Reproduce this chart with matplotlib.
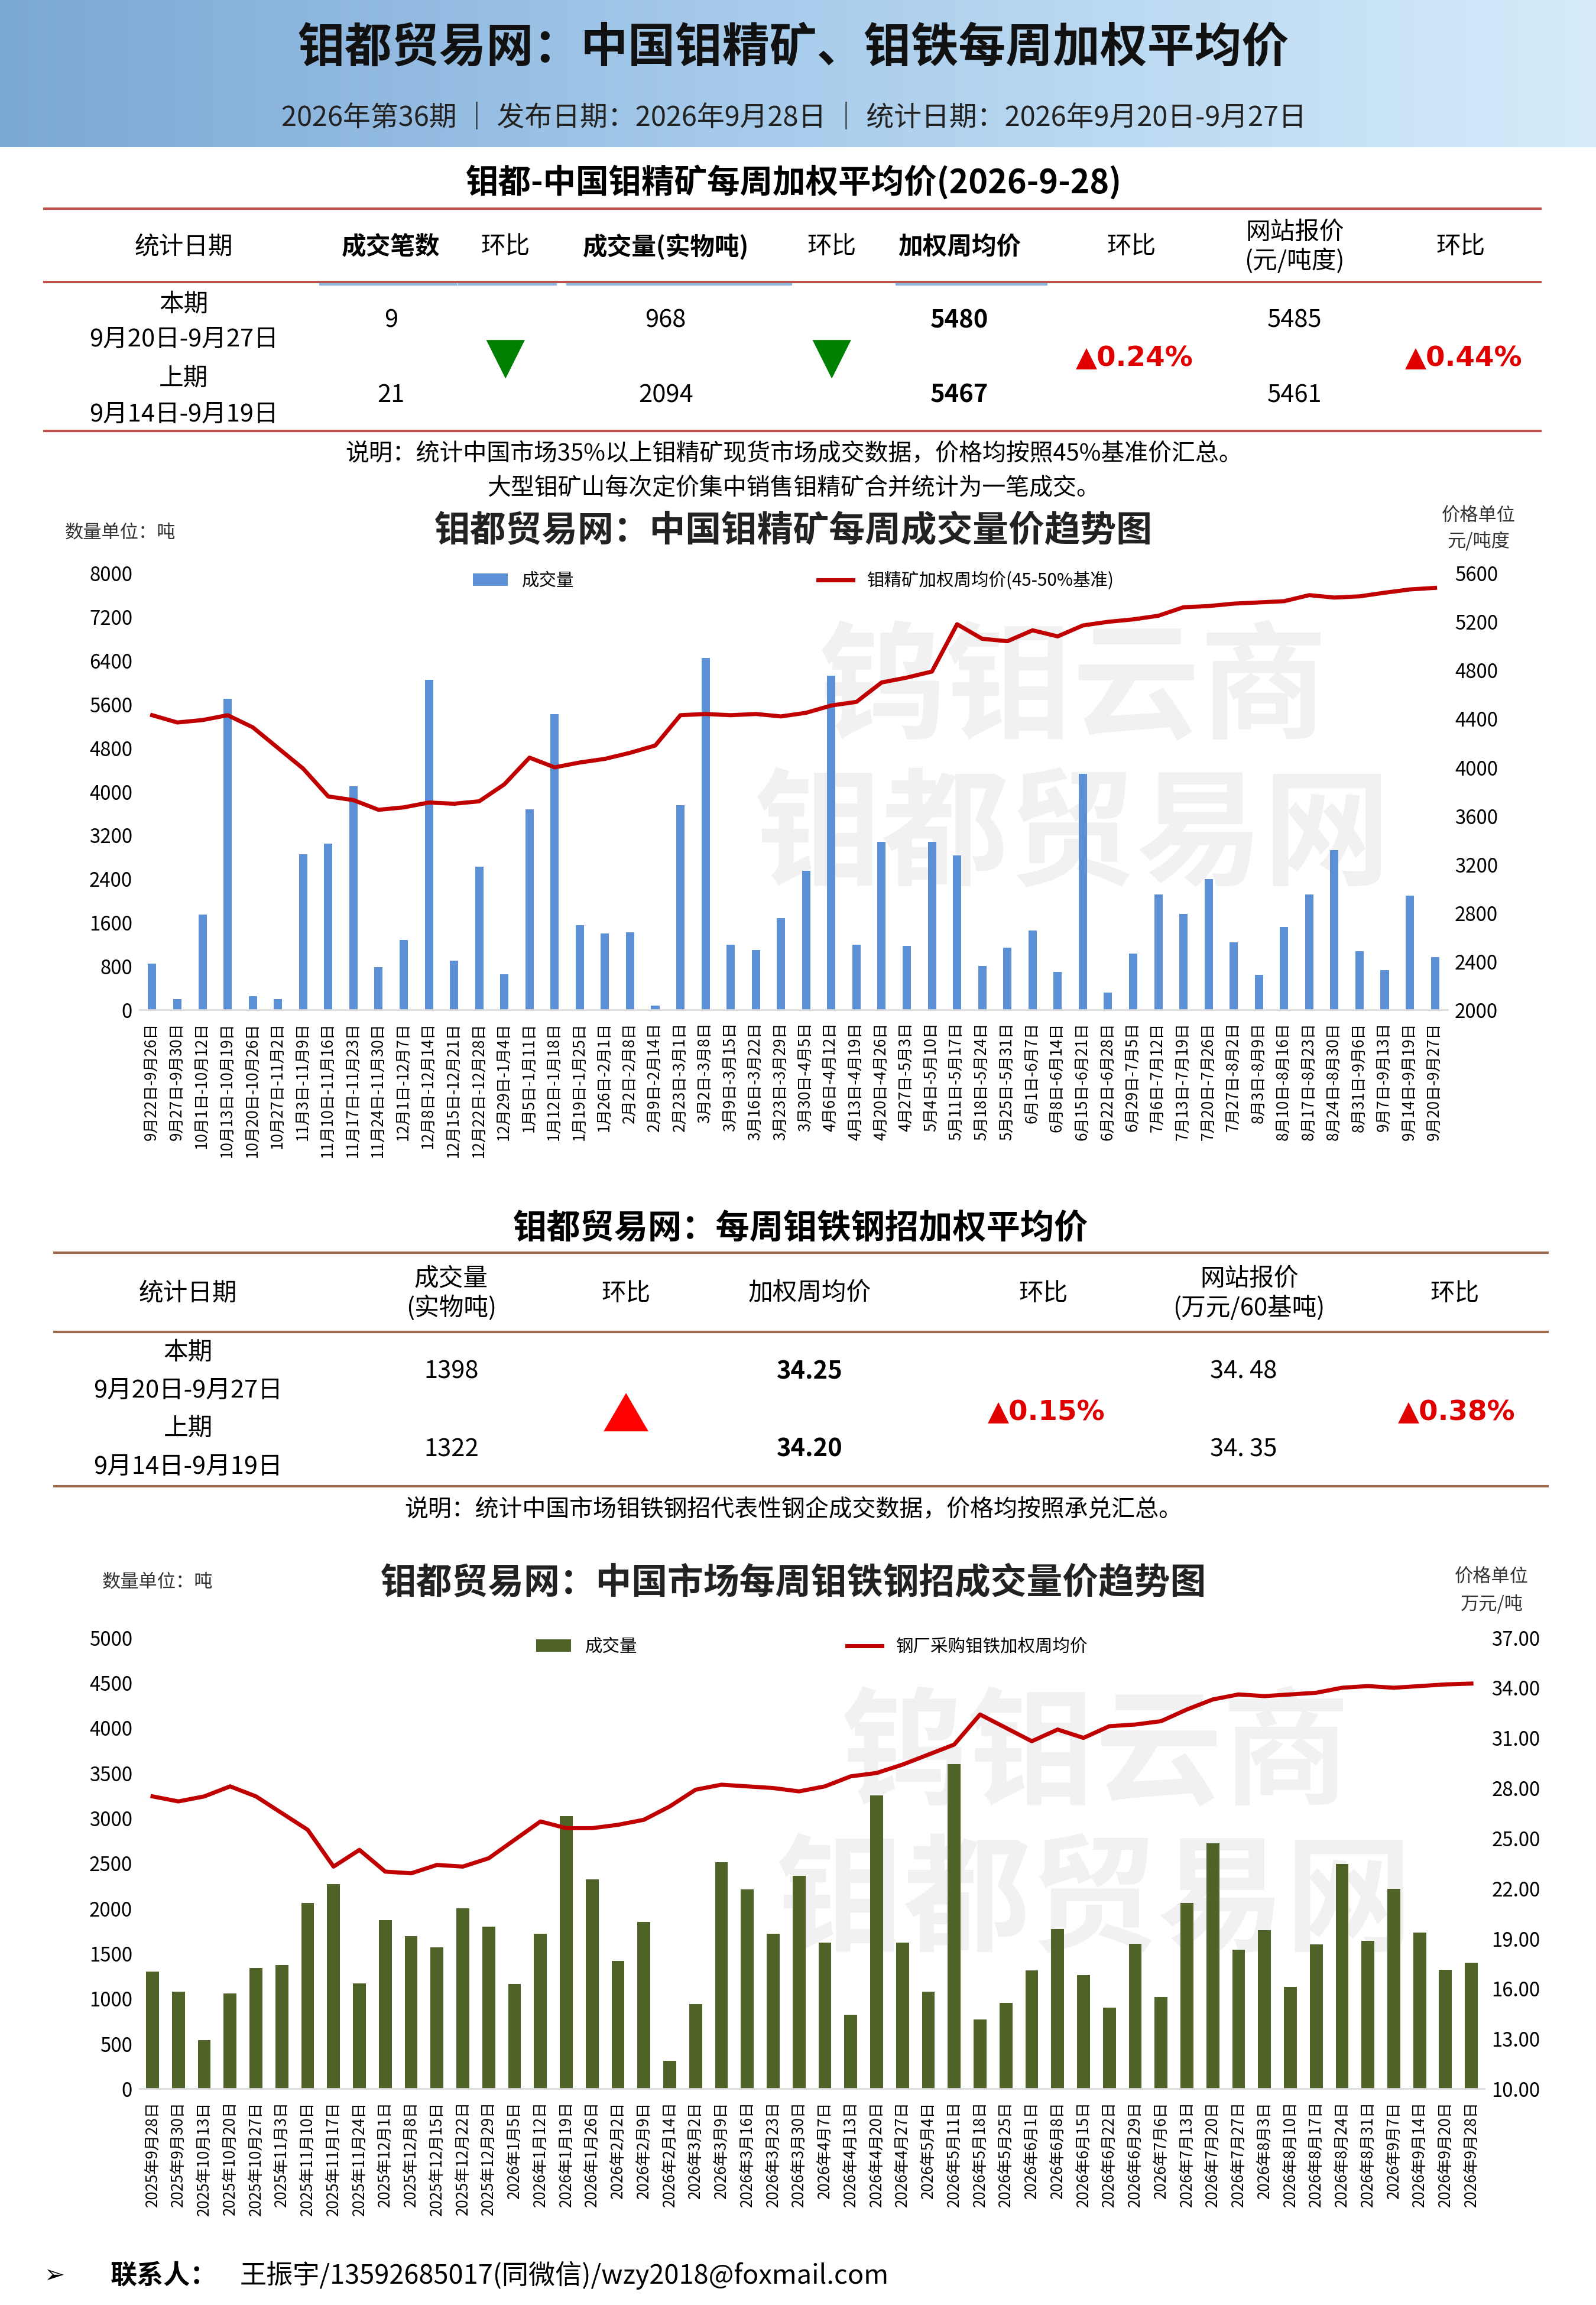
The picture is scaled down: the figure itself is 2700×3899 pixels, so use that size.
import numpy as np
import matplotlib
matplotlib.use('Agg')
import matplotlib.pyplot as plt
from matplotlib.lines import Line2D
from matplotlib.colors import LinearSegmentedColormap

plt.rcParams['font.family'] = ['Noto Sans CJK SC', 'DejaVu Sans']

# ---------------- data ----------------
ore_weeks = ['9月22日-9月26日', '9月27日-9月30日', '10月1日-10月12日', '10月13日-10月19日', '10月20日-10月26日',
             '10月27日-11月2日', '11月3日-11月9日', '11月10日-11月16日', '11月17日-11月23日', '11月24日-11月30日',
             '12月1日-12月7日', '12月8日-12月14日', '12月15日-12月21日', '12月22日-12月28日', '12月29日-1月4日',
             '1月5日-1月11日', '1月12日-1月18日', '1月19日-1月25日', '1月26日-2月1日', '2月2日-2月8日',
             '2月9日-2月14日', '2月23日-3月1日', '3月2日-3月8日', '3月9日-3月15日', '3月16日-3月22日',
             '3月23日-3月29日', '3月30日-4月5日', '4月6日-4月12日', '4月13日-4月19日', '4月20日-4月26日',
             '4月27日-5月3日', '5月4日-5月10日', '5月11日-5月17日', '5月18日-5月24日', '5月25日-5月31日',
             '6月1日-6月7日', '6月8日-6月14日', '6月15日-6月21日', '6月22日-6月28日', '6月29日-7月5日',
             '7月6日-7月12日', '7月13日-7月19日', '7月20日-7月26日', '7月27日-8月2日', '8月3日-8月9日',
             '8月10日-8月16日', '8月17日-8月23日', '8月24日-8月30日', '8月31日-9月6日', '9月7日-9月13日',
             '9月14日-9月19日', '9月20日-9月27日']
ore_volume = [850, 200, 1750, 5700, 250, 200, 2850, 3050, 4100, 780,
              1280, 6050, 900, 2620, 650, 3680, 5420, 1550, 1400, 1420,
              80, 3750, 6450, 1200, 1100, 1680, 2550, 6120, 1200, 3080,
              1170, 3080, 2830, 800, 1140, 1460, 700, 4320, 320, 1030,
              2120, 1760, 2400, 1240, 640, 1520, 2120, 2930, 1080, 730,
              2094, 968]
ore_price = [4430, 4370, 4390, 4430, 4330, 4160, 3990, 3760, 3730, 3650,
             3670, 3710, 3700, 3720, 3860, 4080, 4000, 4040, 4070, 4120,
             4180, 4430, 4440, 4430, 4440, 4420, 4450, 4510, 4540, 4700,
             4740, 4790, 5180, 5060, 5040, 5130, 5080, 5170, 5200, 5220,
             5250, 5320, 5330, 5350, 5360, 5370, 5420, 5400, 5410, 5440,
             5467, 5480]

fe_dates = ['2025年9月28日', '2025年9月30日', '2025年10月13日', '2025年10月20日', '2025年10月27日',
            '2025年11月3日', '2025年11月10日', '2025年11月17日', '2025年11月24日', '2025年12月1日',
            '2025年12月8日', '2025年12月15日', '2025年12月22日', '2025年12月29日', '2026年1月5日',
            '2026年1月12日', '2026年1月19日', '2026年1月26日', '2026年2月2日', '2026年2月9日',
            '2026年2月14日', '2026年3月2日', '2026年3月9日', '2026年3月16日', '2026年3月23日',
            '2026年3月30日', '2026年4月7日', '2026年4月13日', '2026年4月20日', '2026年4月27日',
            '2026年5月4日', '2026年5月11日', '2026年5月18日', '2026年5月25日', '2026年6月1日',
            '2026年6月8日', '2026年6月15日', '2026年6月22日', '2026年6月29日', '2026年7月6日',
            '2026年7月13日', '2026年7月20日', '2026年7月27日', '2026年8月3日', '2026年8月10日',
            '2026年8月17日', '2026年8月24日', '2026年8月31日', '2026年9月7日', '2026年9月14日',
            '2026年9月20日', '2026年9月28日']
fe_volume = [1300, 1080, 540, 1060, 1340, 1370, 2060, 2270, 1170, 1870,
             1690, 1570, 2000, 1800, 1160, 1720, 3020, 2320, 1420, 1850,
             310, 940, 2510, 2210, 1720, 2360, 1620, 820, 3250, 1620,
             1080, 3600, 770, 950, 1310, 1770, 1260, 900, 1610, 1020,
             2060, 2720, 1540, 1760, 1130, 1600, 2490, 1640, 2220, 1730,
             1322, 1398]
fe_price = [27.5, 27.2, 27.5, 28.1, 27.5, 26.5, 25.5, 23.3, 24.3, 23.0,
            22.9, 23.4, 23.3, 23.8, 24.9, 26.0, 25.6, 25.6, 25.8, 26.1,
            26.9, 27.9, 28.2, 28.1, 28.0, 27.8, 28.1, 28.7, 28.9, 29.4,
            30.0, 30.6, 32.4, 31.6, 30.8, 31.5, 31.0, 31.7, 31.8, 32.0,
            32.7, 33.3, 33.6, 33.5, 33.6, 33.7, 34.0, 34.1, 34.0, 34.1,
            34.20, 34.25]

ore_header = ['统计日期', '成交笔数', '环比', '成交量(实物吨)', '环比', '加权周均价', '环比', '网站报价\n(元/吨度)', '环比']
ore_cur = ['9', '968', '5480', '5485']
ore_prev = ['21', '2094', '5467', '5461']
fe_header = ['统计日期', '成交量\n(实物吨)', '环比', '加权周均价', '环比', '网站报价\n(万元/60基吨)', '环比']
fe_cur = ['1398', '34.25', '34. 48']
fe_prev = ['1322', '34.20', '34. 35']

# ---------------- layout helpers (reference px at 1086x1568) ----------------
W, H = 1086.0, 1568.0
fig = plt.figure(figsize=(10.8, 15.596), dpi=250)


def fx(x):
    return x / W


def fy(y):
    return 1 - y / H


def txt(x, y, s, size, **kw):
    kw.setdefault('ha', 'center')
    kw.setdefault('va', 'center')
    fig.text(fx(x), fy(y), s, fontsize=size, **kw)


def hline(y, x0, x1, color='#c0504d', lw=1.2):
    fig.add_artist(Line2D([fx(x0), fx(x1)], [fy(y), fy(y)], color=color, lw=lw))


# header band
hax = fig.add_axes([0, fy(100), 1, 100 / H])
grad = np.linspace(0, 1, 256).reshape(1, -1)
cm = LinearSegmentedColormap.from_list('hb', ['#7ca8d6', '#a9cdec', '#d5ebfa'])
hax.imshow(grad, aspect='auto', cmap=cm, extent=[0, 1, 0, 1])
hax.axis('off')
txt(540, 33, '钼都贸易网：中国钼精矿、钼铁每周加权平均价', 23, weight='bold', color='#111111')
txt(540, 80, '2026年第36期 ｜ 发布日期：2026年9月28日 ｜ 统计日期：2026年9月20日-9月27日', 13.5, color='#222222')

# ---------------- table 1 ----------------
txt(540, 124, '钼都-中国钼精矿每周加权平均价(2026-9-28)', 16, weight='bold')
hline(142, 30, 1048)
hline(192, 30, 1048)
hline(293, 30, 1048)
for a, b in [(218, 310), (312, 378), (386, 538), (610, 712)]:
    hline(193.5, a, b, color='#8db3e2', lw=1.2)
cols1 = [125, 266, 344, 453, 566, 653, 770, 881, 994]
for x, h in zip(cols1, ore_header):
    txt(x, 168, h, 12, weight='bold' if h in ('成交笔数', '成交量(实物吨)', '加权周均价') else 'normal',
        linespacing=1.2)
txt(125, 207, '本期', 12)
txt(125, 231, '9月20日-9月27日', 12)
txt(125, 258, '上期', 12)
txt(125, 282, '9月14日-9月19日', 12)
for x, c, p in zip([266, 453, 653, 881], ore_cur, ore_prev):
    w = 'bold' if x == 653 else 'normal'
    txt(x, 218, c, 12, weight=w)
    txt(x, 269, p, 12, weight=w)
for x in [344, 566]:
    fig.add_artist(plt.Polygon([[fx(x - 12), fy(232)], [fx(x + 12), fy(232)], [fx(x), fy(256)]],
                               color='#008000', transform=fig.transFigure))
txt(772, 244, '▲0.24%', 13.5, color='#e00000', weight='bold', family=['DejaVu Sans'])
txt(996, 244, '▲0.44%', 13.5, color='#e00000', weight='bold', family=['DejaVu Sans'])
txt(540, 309, '说明：统计中国市场35%以上钼精矿现货市场成交数据，价格均按照45%基准价汇总。', 11.5)
txt(540, 332, '大型钼矿山每次定价集中销售钼精矿合并统计为一笔成交。', 11.5)

# ---------------- chart 1 ----------------
txt(540, 361, '钼都贸易网：中国钼精矿每周成交量价趋势图', 17.5, weight='bold', color='#222222')
txt(82, 362, '数量单位：吨', 9, color='#333333')
txt(1006, 351, '价格单位', 9, color='#333333')
txt(1006, 368, '元/吨度', 9, color='#333333')
for s, y0 in [('钨钼云商', 470), ('钼都贸易网', 570)]:
    txt(730, y0, s, 62, weight='bold', color='#f1f1f1', zorder=0)

ax1 = fig.add_axes([fx(95), fy(687), fx(985) - fx(95), (687 - 390) / H])
ax1.set_zorder(2)
ax1.patch.set_alpha(0)
x = np.arange(len(ore_weeks))
ax1.bar(x, ore_volume, width=0.33, color='#5b8fd6', label='成交量', zorder=2)
ax1.set_ylim(0, 8000)
ax1.set_yticks(np.arange(0, 8001, 800))
ax1.set_xlim(-0.5, len(x) - 0.5)
ax1.set_xticks(x)
ax1.set_xticklabels(ore_weeks, rotation=90, fontsize=7.5)
ax1.tick_params(axis='y', labelsize=9.5, length=0)
ax1.tick_params(axis='x', length=0, pad=6)
for s in ['top', 'right', 'left']:
    ax1.spines[s].set_visible(False)
ax1.spines['bottom'].set_color('#d9d9d9')
ax1b = ax1.twinx()
ax1b.set_zorder(3)
ax1b.patch.set_alpha(0)
ax1b.plot(x, ore_price, color='#c00000', lw=2, label='钼精矿加权周均价(45-50%基准)', zorder=3)
ax1b.set_ylim(2000, 5600)
ax1b.set_yticks(np.arange(2000, 5601, 400))
ax1b.tick_params(axis='y', labelsize=9.5, length=0)
for s in ax1b.spines.values():
    s.set_visible(False)
h1, l1 = ax1.get_legend_handles_labels()
h2, l2 = ax1b.get_legend_handles_labels()
ax1b.legend(h1 + h2, l1 + l2, loc='upper center', bbox_to_anchor=(0.5, 1.04), ncol=2, frameon=False,
            fontsize=8.5, columnspacing=14, handlelength=2)

# ---------------- table 2 ----------------
txt(545, 836, '钼都贸易网：每周钼铁钢招加权平均价', 16.5, weight='bold')
hline(852, 37, 1053, color='#9c6b4e')
hline(906, 37, 1053, color='#9c6b4e')
hline(1011, 37, 1053, color='#9c6b4e')
cols2 = [128, 307, 426, 551, 710, 850, 990]
for x2, h in zip(cols2, fe_header):
    txt(x2, 880, h, 12, linespacing=1.2)
txt(128, 920, '本期', 12)
txt(128, 946, '9月20日-9月27日', 12)
txt(128, 972, '上期', 12)
txt(128, 998, '9月14日-9月19日', 12)
for x2, c, p in zip([307, 551, 846], fe_cur, fe_prev):
    w = 'bold' if x2 == 551 else 'normal'
    txt(x2, 933, c, 12, weight=w)
    txt(x2, 986, p, 12, weight=w)
fig.add_artist(plt.Polygon([[fx(412), fy(973)], [fx(440), fy(973)], [fx(426), fy(949)]],
                           color='#ff0000', transform=fig.transFigure))
txt(712, 961, '▲0.15%', 13.5, color='#e00000', weight='bold', family=['DejaVu Sans'])
txt(991, 961, '▲0.38%', 13.5, color='#e00000', weight='bold', family=['DejaVu Sans'])
txt(540, 1027, '说明：统计中国市场钼铁钢招代表性钢企成交数据，价格均按照承兑汇总。', 11.5)

# ---------------- chart 2 ----------------
txt(540, 1077, '钼都贸易网：中国市场每周钼铁钢招成交量价趋势图', 17.5, weight='bold', color='#222222')
txt(107, 1076, '数量单位：吨', 9, color='#333333')
txt(1015, 1073, '价格单位', 9, color='#333333')
txt(1015, 1091, '万元/吨', 9, color='#333333')
for s, y0 in [('钨钼云商', 1195), ('钼都贸易网', 1295)]:
    txt(745, y0, s, 62, weight='bold', color='#f1f1f1', zorder=0)

ax2 = fig.add_axes([fx(95), fy(1421), fx(1010) - fx(95), (1421 - 1114) / H])
ax2.set_zorder(2)
ax2.patch.set_alpha(0)
x = np.arange(len(fe_dates))
ax2.bar(x, fe_volume, width=0.5, color='#4f6228', label='成交量', zorder=2)
ax2.set_ylim(0, 5000)
ax2.set_yticks(np.arange(0, 5001, 500))
ax2.set_xlim(-0.5, len(x) - 0.5)
ax2.set_xticks(x)
ax2.set_xticklabels(fe_dates, rotation=90, fontsize=7.5)
ax2.tick_params(axis='y', labelsize=9.5, length=0)
ax2.tick_params(axis='x', length=0, pad=6)
for s in ['top', 'right', 'left']:
    ax2.spines[s].set_visible(False)
ax2.spines['bottom'].set_color('#d9d9d9')
ax2b = ax2.twinx()
ax2b.set_zorder(3)
ax2b.patch.set_alpha(0)
ax2b.plot(x, fe_price, color='#c00000', lw=2, label='钢厂采购钼铁加权周均价', zorder=3)
ax2b.set_ylim(10, 37)
ax2b.set_yticks(np.arange(10, 37.1, 3))
ax2b.set_yticklabels(['%.2f' % v for v in np.arange(10, 37.1, 3)])
ax2b.tick_params(axis='y', labelsize=9.5, length=0)
for s in ax2b.spines.values():
    s.set_visible(False)
h1, l1 = ax2.get_legend_handles_labels()
h2, l2 = ax2b.get_legend_handles_labels()
ax2b.legend(h1 + h2, l1 + l2, loc='upper center', bbox_to_anchor=(0.5, 1.035), ncol=2, frameon=False,
            fontsize=8.5, columnspacing=12, handlelength=2)

# footer
txt(30, 1548, '➢', 12, ha='left', family=['DejaVu Sans'])
txt(75, 1548, '联系人：', 13, ha='left', weight='bold')
txt(163, 1548, '王振宇/13592685017(同微信)/wzy2018@foxmail.com', 13, ha='left')

fig.savefig('out.png', dpi=250)
